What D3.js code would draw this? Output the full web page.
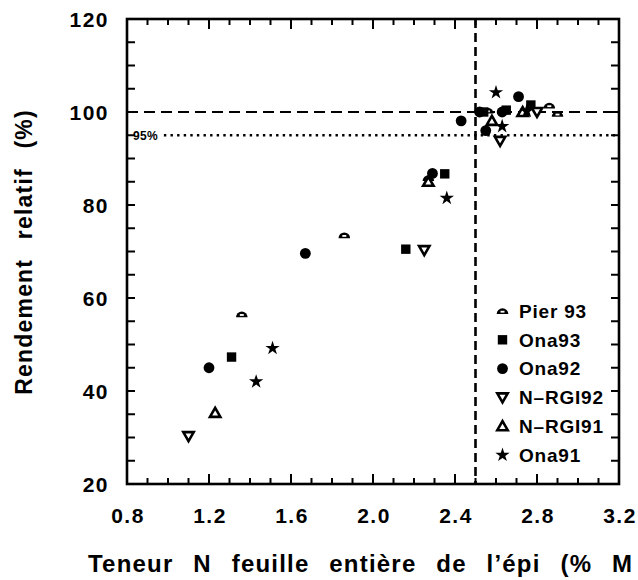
<!DOCTYPE html>
<html>
<head>
<meta charset="utf-8">
<script src="https://cdn.jsdelivr.net/npm/d3@7"></script>
<style>
  html, body { margin: 0; padding: 0; background: #fff; }
  svg { display: block; font-family: "Liberation Sans", Arial, Helvetica, sans-serif; font-weight: bold; }
</style>
</head>
<body>
<svg id="chart" width="638" height="580"></svg>
<script>
// Relative yield (%) versus whole ear-leaf N content, one array per trial
const pier93 = [[1.36, 56.5], [1.86, 73.5], [2.27, 85.8], [2.56, 100.3], [2.86, 101.4], [2.90, 99.6]];
const ona93  = [[1.31, 47.3], [2.16, 70.5], [2.35, 86.7], [2.54, 100.0], [2.65, 100.4], [2.77, 101.5]];
const ona92  = [[1.20, 45.0], [1.67, 69.6], [2.29, 86.8], [2.43, 98.1], [2.52, 100.0], [2.55, 96.0], [2.63, 100.0], [2.71, 103.3]];
const nrgi92 = [[1.10, 30.3], [2.25, 70.3], [2.62, 93.8], [2.80, 100.0]];
const nrgi91 = [[1.23, 35.3], [2.27, 85.0], [2.58, 98.1], [2.73, 100.0]];
const ona91  = [[1.43, 42.0], [1.51, 49.2], [2.36, 81.5], [2.60, 104.2], [2.63, 96.9], [2.75, 100.2]];

const seriesNames = ["Pier  93", "Ona93", "Ona92", "N\u2013RGI92", "N\u2013RGI91", "Ona91"];
const seriesShapes = ["dome", "square", "circle", "tri-down", "tri-up", "star"];
const seriesData = [pier93, ona93, ona92, nrgi92, nrgi91, ona91];

const xTickLabels = ["0.8", "1.2", "1.6", "2.0", "2.4", "2.8", "3.2"];
const yTickLabels = ["20", "40", "60", "80", "100", "120"];

const yieldMax = 100;      // plateau
const yieldCritical = 95;  // 95 % of maximum yield
const nCritical = 2.5;     // critical leaf N

const xTitle = "Teneur N feuille enti\u00e8re de l\u2019\u00e9pi (% M";
const yTitle = "Rendement relatif (%)";

const svg = d3.select("#chart");
const plotLeft = 127, plotRight = 619, plotTop = 19, plotBottom = 484;

const x = d3.scaleLinear().domain([0.8, 3.2]).range([plotLeft, plotRight]);
const y = d3.scaleLinear().domain([20, 120]).range([plotBottom, plotTop]);

// Reference lines
svg.append("line")
  .attr("x1", x(0.8)).attr("x2", x(3.2)).attr("y1", y(yieldMax)).attr("y2", y(yieldMax))
  .attr("stroke", "#000").attr("stroke-width", 2.2).attr("stroke-dasharray", "11,6");
svg.append("line")
  .attr("x1", x(0.98)).attr("x2", x(3.2)).attr("y1", y(yieldCritical)).attr("y2", y(yieldCritical))
  .attr("stroke", "#000").attr("stroke-width", 2.4).attr("stroke-dasharray", "2.4,4.2");
svg.append("line")
  .attr("x1", x(nCritical)).attr("x2", x(nCritical)).attr("y1", y(120)).attr("y2", y(20))
  .attr("stroke", "#000").attr("stroke-width", 2.6).attr("stroke-dasharray", "9,5");
svg.append("text")
  .attr("x", x(0.8) + 6).attr("y", y(yieldCritical)).attr("dy", "0.36em")
  .attr("font-size", 12).attr("letter-spacing", 0.3).text("95%");

// Axes frame and inward ticks on all four sides
const xMinor = d3.range(8, 33).map(d => d / 10);
const isMajorX = d => Math.abs(Math.round(d * 10) % 4) === 0;
const yMinor = d3.range(20, 121, 5);

svg.append("rect").attr("x", plotLeft).attr("y", plotTop)
  .attr("width", plotRight - plotLeft).attr("height", plotBottom - plotTop)
  .attr("fill", "none").attr("stroke", "#000").attr("stroke-width", 2.6);

const tickG = svg.append("g").attr("stroke", "#000").attr("stroke-width", 2);
xMinor.forEach(d => {
  const len = isMajorX(d) ? 10 : 6;
  tickG.append("line").attr("x1", x(d)).attr("x2", x(d)).attr("y1", plotBottom).attr("y2", plotBottom - len);
  tickG.append("line").attr("x1", x(d)).attr("x2", x(d)).attr("y1", plotTop).attr("y2", plotTop + len);
});
yMinor.forEach(d => {
  tickG.append("line").attr("x1", plotLeft).attr("x2", plotLeft + 8).attr("y1", y(d)).attr("y2", y(d));
  tickG.append("line").attr("x1", plotRight).attr("x2", plotRight - 8).attr("y1", y(d)).attr("y2", y(d));
});

// Tick labels
svg.append("g").selectAll("text").data(xTickLabels).join("text")
  .attr("x", d => x(+d) + 1).attr("y", 515).attr("dy", "0.36em")
  .attr("text-anchor", "middle").attr("font-size", 21).attr("letter-spacing", 1.5).text(d => d);
svg.append("g").selectAll("text").data(yTickLabels).join("text")
  .attr("x", plotLeft - 18).attr("y", d => y(+d)).attr("dy", "0.36em")
  .attr("text-anchor", "end").attr("font-size", 21).attr("letter-spacing", 1.5).text(d => d);

// Axis titles
svg.append("text").attr("x", 88).attr("y", 563).attr("dy", "0.36em")
  .attr("font-size", 24).attr("letter-spacing", 1.2).attr("word-spacing", 12).text(xTitle);
svg.append("text")
  .attr("transform", `translate(24,252) rotate(-90)`)
  .attr("dy", "0.36em").attr("text-anchor", "middle")
  .attr("font-size", 23).attr("letter-spacing", 1.2).attr("word-spacing", 12).text(yTitle);

// Marker shapes
function drawMarker(g, shape, cx, cy) {
  if (shape === "circle") {
    g.append("circle").attr("cx", cx).attr("cy", cy).attr("r", 5.4).attr("fill", "#000");
  } else if (shape === "square") {
    g.append("rect").attr("x", cx - 4.7).attr("y", cy - 4.7).attr("width", 9.4).attr("height", 9.4).attr("fill", "#000");
  } else if (shape === "star") {
    g.append("path").attr("transform", `translate(${cx},${cy})`)
      .attr("d", d3.symbol(d3.symbolStar, 64)()).attr("fill", "#000");
  } else if (shape === "tri-down") {
    g.append("path").attr("d", `M${cx - 5.2},${cy - 4} L${cx + 5.2},${cy - 4} L${cx},${cy + 5} Z`)
      .attr("fill", "#fff").attr("stroke", "#000").attr("stroke-width", 2.6).attr("stroke-linejoin", "miter");
  } else if (shape === "tri-up") {
    g.append("path").attr("d", `M${cx - 5.2},${cy + 4} L${cx + 5.2},${cy + 4} L${cx},${cy - 5} Z`)
      .attr("fill", "#fff").attr("stroke", "#000").attr("stroke-width", 2.6).attr("stroke-linejoin", "miter");
  } else if (shape === "dome") {
    g.append("path").attr("d", `M${cx - 5.8},${cy + 3} A5.8,5.8 0 0 1 ${cx + 5.8},${cy + 3} Z`).attr("fill", "#000");
    g.append("rect").attr("x", cx - 2).attr("y", cy - 0.2).attr("width", 4).attr("height", 1.8).attr("fill", "#fff");
  }
}

// Data points
const pts = svg.append("g");
seriesData.forEach((data, i) => {
  data.forEach(([vx, vy]) => drawMarker(pts, seriesShapes[i], x(vx), y(vy)));
});

// Legend
const legend = svg.append("g");
seriesNames.forEach((name, i) => {
  const ly = 311 + i * 28.8;
  drawMarker(legend, seriesShapes[i], 502.5, ly);
  legend.append("text").attr("x", 519).attr("y", ly).attr("dy", "0.36em")
    .attr("font-size", 19).attr("letter-spacing", 0.8).text(name);
});
</script>
</body>
</html>
